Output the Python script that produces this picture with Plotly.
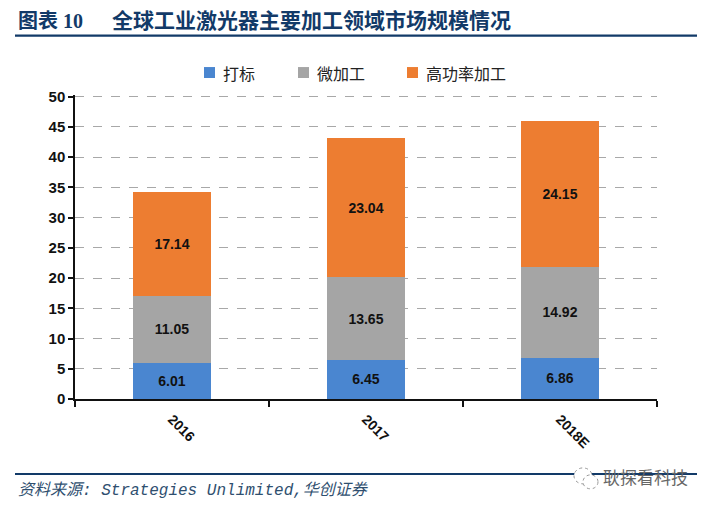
# Global industrial laser market size by main processing field - stacked bars
import plotly.graph_objects as go

# the page has an 8px body margin, so the figure sits 8px in from the window
PAGE_MARGIN = 8
WIDTH = 709 - PAGE_MARGIN
HEIGHT = 508 - PAGE_MARGIN

years = ["2016", "2017", "2018E"]
marking = [6.01, 6.45, 6.86]
micro = [11.05, 13.65, 14.92]
high_power = [17.14, 23.04, 24.15]
y_ticks = [0, 5, 10, 15, 20, 25, 30, 35, 40, 45, 50]

BLUE = "#4a86d0"
GREY = "#a5a5a5"
ORANGE = "#ed7d31"
NAVY = "#123a68"

# plot area in window pixels, top goes a little past the 50 tick
# because plotly drops a gridline sitting right on the edge of the axis
LEFT, RIGHT, TOP, BOTTOM = 75, 657, 94.5, 399
Y_MAX = 50.25


def px(x):
    return (x - LEFT) / (RIGHT - LEFT)


def py(y):
    return (BOTTOM - y) / (BOTTOM - TOP)


def add_bar(fig, name, values, color):
    fig.add_trace(go.Bar(
        x=years,
        y=values,
        name=name,
        marker=dict(color=color, line_width=0),
        text=[f"{v:.2f}" for v in values],
        textposition="inside",
        insidetextanchor="middle",
        textangle=0,
        textfont=dict(family="Liberation Sans", size=14, color="#111111", weight="bold"),
    ))


def add_text(fig, text, x, y, size, color, family="Noto Sans CJK SC", anchor="left"):
    fig.add_annotation(text=text, xref="paper", yref="paper", x=px(x), y=py(y),
                       xanchor=anchor, yanchor="middle", showarrow=False,
                       font=dict(family=family, size=size, color=color))


fig = go.Figure()
add_bar(fig, "打标", marking, BLUE)
add_bar(fig, "微加工", micro, GREY)
add_bar(fig, "高功率加工", high_power, ORANGE)

# rules under the title and above the source
for y, width in [(35, 2.4), (474, 2)]:
    fig.add_shape(type="line", xref="paper", yref="paper",
                  x0=px(15), x1=px(697), y0=py(y), y1=py(y),
                  line=dict(color=NAVY, width=width))

TITLE_FONT = "Liberation Serif, Noto Sans CJK SC"
add_text(fig, "<b>图表 10</b>", 16, 20, 20, NAVY, family=TITLE_FONT)
add_text(fig, "<b>全球工业激光器主要加工领域市场规模情况</b>", 110, 20, 21, NAVY, family=TITLE_FONT)
add_text(fig, "<i>资料来源: Strategies Unlimited,华创证券</i>", 16, 491, 16, "#2f4f6f",
         family="Liberation Mono, Noto Sans CJK SC")

# legend drawn by hand, each entry has its own spacing
legend_items = [("打标", BLUE, 204), ("微加工", GREY, 298), ("高功率加工", ORANGE, 407)]
for name, color, x in legend_items:
    fig.add_shape(type="rect", xref="paper", yref="paper", line_width=0, fillcolor=color,
                  x0=px(x), x1=px(x + 11), y0=py(66.5), y1=py(77.5))
    add_text(fig, name, x + 17, 72, 16, "#222222")

# watermark over the lower rule
fig.add_shape(type="circle", xref="paper", yref="paper", fillcolor="white",
              line=dict(color="#999999", width=1, dash="dot"),
              x0=px(574), x1=px(592), y0=py(484), y1=py(468))
fig.add_shape(type="circle", xref="paper", yref="paper", fillcolor="white",
              line=dict(color="#999999", width=1, dash="dot"),
              x0=px(583), x1=px(598), y0=py(489), y1=py(475))
add_text(fig, "耿探看科技", 690, 477, 17, "#666666", anchor="right")

fig.update_layout(
    width=WIDTH,
    height=HEIGHT,
    barmode="stack",
    bargap=0.6,
    paper_bgcolor="white",
    plot_bgcolor="white",
    showlegend=False,
    margin=dict(l=LEFT - PAGE_MARGIN, r=709 - RIGHT, t=TOP - PAGE_MARGIN, b=508 - BOTTOM, autoexpand=False),
    font=dict(family="Liberation Sans, Noto Sans CJK SC", color="#111111"),
    xaxis=dict(
        type="category",
        tickson="boundaries",
        ticks="outside",
        ticklen=6,
        tickcolor="#111111",
        tickwidth=1.5,
        showline=True,
        linecolor="#111111",
        linewidth=1.5,
        showgrid=False,
        tickangle=45,
        ticklabelstandoff=5,
        tickfont=dict(size=14, weight="bold"),
    ),
    yaxis=dict(
        range=[0, Y_MAX],
        tickmode="array",
        tickvals=y_ticks,
        ticks="outside",
        ticklen=5,
        tickcolor="#111111",
        tickwidth=1.5,
        showline=True,
        linecolor="#111111",
        linewidth=1.5,
        showgrid=True,
        gridcolor="#a8a8a8",
        griddash="dash",
        gridwidth=1,
        zeroline=False,
        tickfont=dict(size=15, weight="bold"),
    ),
)

fig.write_html("out.html")
